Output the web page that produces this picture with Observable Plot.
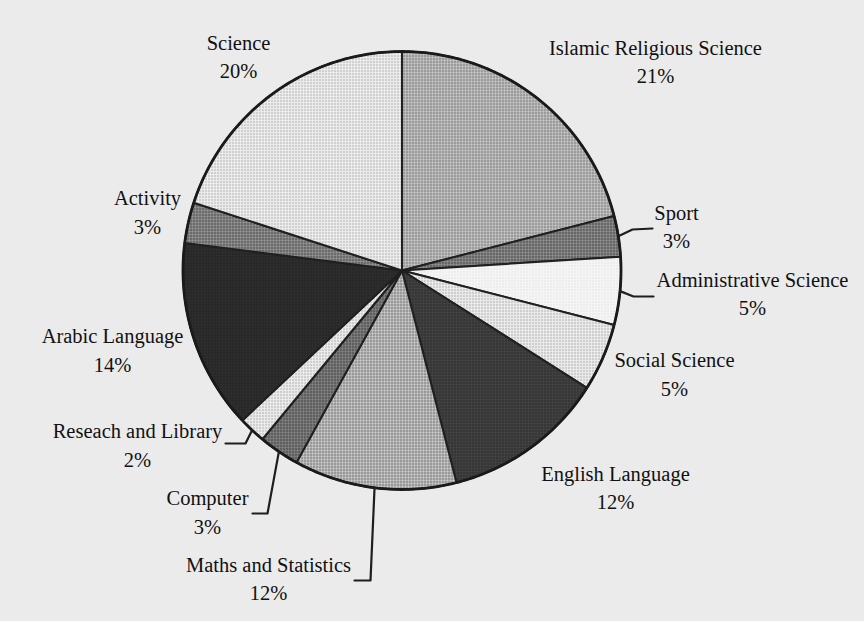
<!DOCTYPE html>
<html><head><meta charset="utf-8">
<script src="https://cdn.jsdelivr.net/npm/d3@7"></script>
<script src="https://cdn.jsdelivr.net/npm/@observablehq/plot@0.6"></script>
<style>
html,body{margin:0;padding:0;background:#ebebeb;}
#chart svg{display:block}
</style></head><body>
<svg id="defs" width="0" height="0" style="position:absolute"></svg>
<div id="chart"></div>
<script>
// ---- data ----
const categories = ["Islamic Religious Science","Sport","Administrative Science","Social Science","English Language","Maths and Statistics","Computer","Reseach and Library","Arabic Language","Activity","Science"];
const values = [21,3,5,5,12,12,3,2,14,3,20];
const percentLabels = values.map(v => v + "%");

// ---- styles (halftone-like fills: base, dot colour, dot radius) ----
const fillStyles = [
  ["#d0d0d0","#5e5e5e",0.95],
  ["#9c9c9c","#2e2e2e",1.0],
  ["#f5f5f5","#c8c8c8",0.5],
  ["#eeeeee","#858585",0.7],
  ["#474747","#222",1.0],
  ["#d4d4d4","#555",0.95],
  ["#8c8c8c","#2e2e2e",1.0],
  ["#eeeeee","#8a8a8a",0.7],
  ["#303030","#1e1e1e",1.0],
  ["#9e9e9e","#333",1.0],
  ["#efefef","#8a8a8a",0.7]
];
const W = 864, H = 621;
const pie = {cx: 401.5, cy: 270, r: 219};
// label block centres (pixels)
const labelPos = [[655,59.5],[676,224.5],[752,291.5],[674,372],[615,485.5],[268,576.5],[207,510],[137,443],[112,348],[147,210],[238,54.5]];
// leader elbows/ends for small slices (index -> [[elbow],[end]])
const leaderLayout = {1:[[632,229],[652,228]], 2:[[633,296],[653,296]], 7:[[245,443],[225,443]], 6:[[267,513],[252,513]], 5:[[370,580],[354,580]]};

// patterns
const defs = d3.select("#defs").append("defs");
fillStyles.forEach(([base,dot,r],i) => {
  const p = defs.append("pattern").attr("id","pat"+i).attr("width",3).attr("height",3).attr("patternUnits","userSpaceOnUse");
  p.append("rect").attr("width",3).attr("height",3).attr("fill",base);
  p.append("circle").attr("cx",1.5).attr("cy",1.5).attr("r",r).attr("fill",dot);
});

const pt = (a, rr) => [pie.cx + rr*Math.sin(a), pie.cy - rr*Math.cos(a)];
const slices = d3.pie().sort(null).value(d => d)(values).map((p,i) => ({...p, name: categories[i], i}));

const sliceRows = slices.map(s => {
  const n = Math.max(2, Math.ceil((s.endAngle - s.startAngle)/0.01));
  const rows = [{x: pie.cx, y: pie.cy}];
  for (let k = 0; k <= n; k++) {
    const [x,y] = pt(s.startAngle + (s.endAngle - s.startAngle)*k/n, pie.r);
    rows.push({x, y});
  }
  return rows;
});
const circleRows = d3.range(0, 361).map(d => { const [x,y] = pt(d*Math.PI/180, pie.r); return {x,y}; });

const leaderRows = Object.entries(leaderLayout).flatMap(([i,[e,f]]) => {
  const s = slices[+i];
  const [x0,y0] = pt((s.startAngle+s.endAngle)/2, pie.r);
  return [{name:s.name,x:x0,y:y0},{name:s.name,x:e[0],y:e[1]},{name:s.name,x:f[0],y:f[1]}];
});
const labelRows = slices.map((s,i) => ({x: labelPos[i][0], y: labelPos[i][1], text: categories[i] + "\n" + percentLabels[i]}));

const marks = [
  ...sliceRows.map((rows,i) => Plot.line(rows, {x:"x", y:"y", curve:"linear-closed", fill:`url(#pat${i})`, stroke:"#202020", strokeWidth:2, strokeLinejoin:"round"})),
  Plot.line(circleRows, {x:"x", y:"y", curve:"linear-closed", stroke:"#1a1a1a", strokeWidth:2.8}),
  Plot.line(leaderRows, {x:"x", y:"y", z:"name", stroke:"#1e1e1e", strokeWidth:2.2}),
  Plot.text(labelRows, {x:"x", y:"y", text:"text", fontSize:20.5, fontFamily:"Liberation Serif", fill:"#111", lineHeight:1.37, lineAnchor:"middle", textAnchor:"middle"})
];

const chart = Plot.plot({
  width: W, height: H, margin: 0,
  x: {domain:[0,W], range:[0,W], axis:null},
  y: {domain:[0,H], range:[0,H], axis:null},
  style: {background:"#ebebeb"},
  marks
});
document.getElementById("chart").append(chart);
</script>
</body></html>
